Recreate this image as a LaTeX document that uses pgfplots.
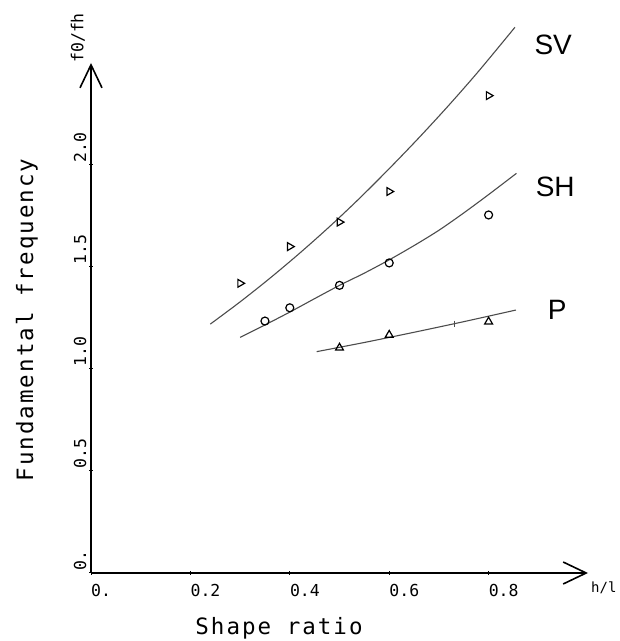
\documentclass[border=0pt]{standalone}
\usepackage{pgfplots}
\pgfplotsset{compat=1.18}
\usepackage{fontspec}
\usetikzlibrary{arrows.meta}
\setmainfont{Liberation Sans}
\newfontfamily\plotterfont{DejaVu Sans Mono}
\newfontfamily\plotterwide{DejaVu Sans Mono}[LetterSpace=9]
\newcommand\tickfont{\plotterfont\fontsize{16.5bp}{19bp}\selectfont}
\newcommand\unitfont{\plotterfont\fontsize{14bp}{16bp}\selectfont}
\newcommand\titlefont{\plotterwide\fontsize{22.5bp}{26bp}\selectfont}
\newcommand\curvefont{\fontsize{28bp}{30bp}\selectfont}

\begin{document}
\begin{tikzpicture}[x=1bp,y=1bp]
\path[use as bounding box] (-91,-68) rectangle (529,573);
\begin{axis}[
  at={(0,0)}, anchor=south west,
  scale only axis, width=497bp, height=510bp,
  xmin=0, xmax=1, ymin=0, ymax=2.5,
  axis lines=left,
  clip=false,
  axis line style={line width=1.6bp, -{Straight Barb[length=23bp,width=22bp,line width=1.6bp]}},
  xtick={0,0.2,0.4,0.6,0.8}, xticklabels={0.,0.2,0.4,0.6,0.8},
  ytick={0,0.5,1,1.5,2}, yticklabels={0.,0.5,1.0,1.5,2.0},
  tick style={black, line width=1bp},
  major tick length=4bp, tick align=center,
  ticklabel style={font=\tickfont},
  xticklabel style={anchor=north west, inner sep=0pt, yshift=-9bp},
  yticklabel style={rotate=90, anchor=south west, inner sep=2.5bp},
]
% fitted curves
\addplot[black!70, line width=1.1bp, smooth] coordinates {
  (0.24,1.220) (0.30,1.329) (0.36,1.445) (0.42,1.568) (0.48,1.698)
  (0.54,1.836) (0.60,1.982) (0.66,2.134) (0.72,2.293) (0.78,2.460) (0.853,2.675)};
\addplot[black!70, line width=1.1bp, smooth] coordinates {
  (0.30,1.155) (0.35,1.216) (0.40,1.279) (0.45,1.345) (0.50,1.410)
  (0.55,1.470) (0.60,1.535) (0.65,1.605) (0.70,1.680) (0.75,1.765)
  (0.80,1.855) (0.856,1.959)};
\addplot[black!70, line width=1.1bp, smooth] coordinates {
  (0.454,1.085) (0.55,1.130) (0.65,1.180) (0.75,1.232) (0.855,1.289)};
\addplot[only marks, mark=|, mark size=3bp, mark options={black!70, line width=0.8bp}]
  coordinates {(0.732,1.223)};
% measured values
\addplot[only marks, mark=triangle, mark size=4.5bp,
  mark options={rotate=-90, line width=1.2bp, black}]
  coordinates {(0.30,1.42) (0.40,1.60) (0.50,1.72) (0.60,1.87) (0.80,2.34)};
\addplot[only marks, mark=o, mark size=4bp, mark options={line width=1.2bp, black}]
  coordinates {(0.35,1.235) (0.40,1.30) (0.50,1.41) (0.60,1.52) (0.80,1.755)};
\addplot[only marks, mark=triangle, mark size=4.5bp, mark options={line width=1.2bp, black}]
  coordinates {(0.50,1.104) (0.60,1.167) (0.80,1.232)};
\node[font=\curvefont] at (axis cs:0.93,2.588) {SV};
\node[font=\curvefont] at (axis cs:0.934,1.892) {SH};
\node[font=\curvefont] at (axis cs:0.938,1.289) {P};
\end{axis}
\node[font=\titlefont] at (188,-55) {Shape ratio};
\node[rotate=90, font=\titlefont] at (-64,253) {Fundamental frequency};
\node[anchor=north west, inner sep=0pt, font=\unitfont] at (500,-9) {h/l};
\node[rotate=90, anchor=south west, inner sep=0pt, font=\tickfont] at (-6,510) {f0/fh};
\end{tikzpicture}
\end{document}
